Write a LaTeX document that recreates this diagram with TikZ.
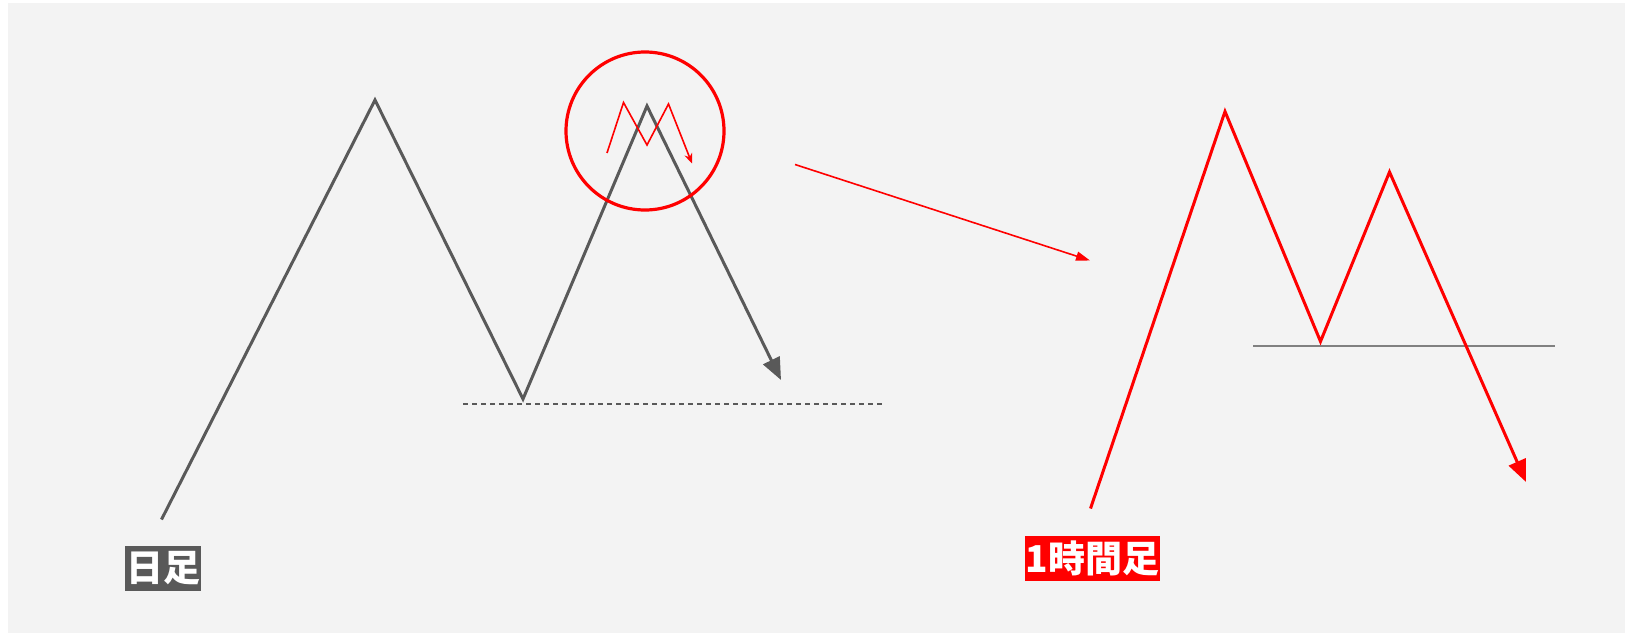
\documentclass[tikz,border=0pt]{standalone}
\usepackage{fontspec}
\newfontfamily\cjk{Noto Sans CJK JP}
\usetikzlibrary{arrows.meta}
\definecolor{bg}{HTML}{F3F3F3}
\definecolor{dgray}{HTML}{595959}
\definecolor{mgray}{HTML}{808080}
\tikzset{
  grayline/.style={draw=dgray,line width=3pt,line join=miter},
  redline/.style={draw=red,line width=3pt,line join=miter},
  thinred/.style={draw=red,line width=1.6pt},
  lbl/.style={font=\cjk\bfseries\fontsize{37}{37}\selectfont,text=white,inner sep=0pt,minimum height=45pt},
}
\begin{document}
\begin{tikzpicture}[x=1pt,y=-1pt]
\useasboundingbox (0,0) rectangle (1633,637);
\fill[white] (0,0) rectangle (1633,637);
\fill[bg] (8,3) rectangle (1625,633);
% daily chart
\coordinate (g0) at (161.5,519.5);
\coordinate (g1) at (375,100);
\coordinate (g2) at (523,399);
\coordinate (g3) at (647,106);
\coordinate (g4) at (781,380);
\draw[grayline,-{Triangle[length=22pt,width=18pt]}] (g0) -- (g1) -- (g2) -- (g3) -- (g4);
\coordinate (d0) at (463,404);
\coordinate (d1) at (885,404);
\draw[draw=dgray,line width=1.5pt,dash pattern=on 5pt off 4pt] (d0) -- (d1);
% circle with small M
\node[draw=red,line width=3.2pt,circle,minimum size=158pt,inner sep=0pt] (circ) at (645,131) {};
\coordinate (s0) at (607,153);
\coordinate (s1) at (623.5,102.5);
\coordinate (s2) at (647,145);
\coordinate (s3) at (668.5,104);
\coordinate (s4) at (692,163.5);
\draw[thinred,-{Stealth[length=10pt,width=8pt]}] (s0) -- (s1) -- (s2) -- (s3) -- (s4);
% pointer arrow
\coordinate (p0) at (795,164.5);
\coordinate (p1) at (1090,260.5);
\draw[thinred,-{Triangle[length=14pt,width=9pt]}] (p0) -- (p1);
% hourly chart
\coordinate (h0) at (1090.5,508.5);
\coordinate (h1) at (1225,111.5);
\coordinate (h2) at (1320.5,341.5);
\coordinate (h3) at (1389.5,172);
\coordinate (h4) at (1526,482);
\coordinate (n0) at (1253,346);
\coordinate (n1) at (1555,346);
\draw[draw=mgray,line width=2.2pt] (n0) -- (n1);
\draw[redline,-{Triangle[length=22pt,width=18pt]}] (h0) -- (h1) -- (h2) -- (h3) -- (h4);
% labels
\node[lbl,fill=dgray,minimum width=76pt] (ldaily) at (163,568.5) {日足};
\node[lbl,fill=red,minimum width=135pt] (lhour) at (1092.5,558.5) {1時間足};
\end{tikzpicture}
\end{document}
